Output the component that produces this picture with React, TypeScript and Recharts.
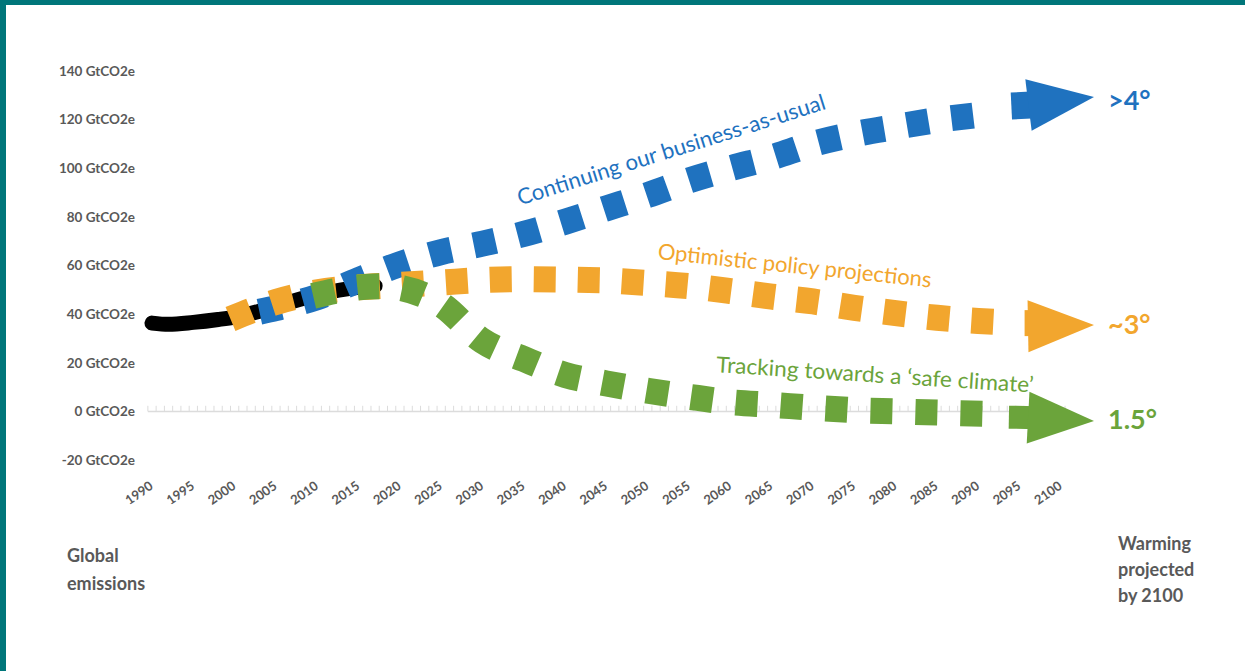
import React from 'react';
import { ComposedChart, Line, XAxis, YAxis, ReferenceLine, ReferenceDot } from 'recharts';

const FONT = 'Lato, "Open Sans", sans-serif';
const GRAY = '#595959';
const BLUE = '#1f72bf';
const ORANGE = '#f2a62e';
const GREEN = '#6ba43b';
const TEAL = '#00767a';
const AXIS_GRAY = '#dcdcdc';

// ---- categories / ticks ----
const xTickYears = [1990, 1995, 2000, 2005, 2010, 2015, 2020, 2025, 2030, 2035, 2040, 2045, 2050, 2055, 2060, 2065, 2070, 2075, 2080, 2085, 2090, 2095, 2100];
const yTickValues = [-20, 0, 20, 40, 60, 80, 100, 120, 140];
const yTickUnit = 'GtCO2e';
const firstYear = 1990;
const lastYear = 2100;

// ---- series (GtCO2e) ----
const historical = [
  { year: 1990, value: 36.3 },
  { year: 1992, value: 35.8 },
  { year: 1995, value: 36.6 },
  { year: 1998, value: 37.8 },
  { year: 2000, value: 38.8 },
  { year: 2003, value: 41.2 },
  { year: 2005, value: 43.2 },
  { year: 2010, value: 48 },
  { year: 2015, value: 51 },
  { year: 2017, value: 51.6 },
];

const businessAsUsual = [
  { year: 2003, value: 41 },
  { year: 2005, value: 42.5 },
  { year: 2010, value: 47 },
  { year: 2015, value: 54 },
  { year: 2020, value: 60.5 },
  { year: 2025, value: 65.5 },
  { year: 2030, value: 69 },
  { year: 2035, value: 73 },
  { year: 2040, value: 78 },
  { year: 2045, value: 83.5 },
  { year: 2050, value: 89 },
  { year: 2055, value: 95 },
  { year: 2060, value: 100 },
  { year: 2065, value: 104.5 },
  { year: 2070, value: 110 },
  { year: 2075, value: 114 },
  { year: 2080, value: 117 },
  { year: 2085, value: 119.8 },
  { year: 2091, value: 122.3 },
];

const policyProjections = [
  { year: 1999.5, value: 38 },
  { year: 2005, value: 45 },
  { year: 2010, value: 49 },
  { year: 2015, value: 51 },
  { year: 2020, value: 52 },
  { year: 2025, value: 53 },
  { year: 2030, value: 54 },
  { year: 2035, value: 54.4 },
  { year: 2040, value: 54.2 },
  { year: 2045, value: 53.8 },
  { year: 2050, value: 52.8 },
  { year: 2055, value: 51.5 },
  { year: 2060, value: 49.5 },
  { year: 2065, value: 47.2 },
  { year: 2070, value: 45.2 },
  { year: 2075, value: 42.6 },
  { year: 2080, value: 40.4 },
  { year: 2085, value: 38.5 },
  { year: 2090, value: 37.2 },
  { year: 2093.5, value: 36.6 },
];

const safeClimate = [
  { year: 2009.5, value: 47.5 },
  { year: 2015, value: 51 },
  { year: 2018, value: 51.5 },
  { year: 2020, value: 50.8 },
  { year: 2025, value: 44 },
  { year: 2030, value: 29 },
  { year: 2035, value: 21.5 },
  { year: 2040, value: 15 },
  { year: 2045, value: 11.5 },
  { year: 2050, value: 8.5 },
  { year: 2055, value: 6 },
  { year: 2060, value: 3.8 },
  { year: 2065, value: 2.7 },
  { year: 2070, value: 1.5 },
  { year: 2075, value: 0.5 },
  { year: 2080, value: 0 },
  { year: 2085, value: -0.5 },
  { year: 2091, value: -1 },
];

// ---- arrows (body start/end and tip) ----
const bauArrowBody = [{ year: 2094, value: 125.6 }, { year: 2097, value: 126.1 }];
const policyArrowBody = [{ year: 2095.6, value: 36.3 }, { year: 2097, value: 36.3 }];
const safeArrowBody = [{ year: 2093.7, value: -2.4 }, { year: 2097, value: -2.6 }];

const bauArrowTip = [{ year: 2104, value: 129.3, label: '>4°' }];
const policyArrowTip = [{ year: 2104, value: 35.5, label: '~3°' }];
const safeArrowTip = [{ year: 2104, value: -4, label: '1.5°' }];

// ---- annotations ----
const annotations = [
  { text: 'Continuing our business-as-usual', year: 2052.8, value: 107.9, color: BLUE, angle: -17.5, length: 322 },
  { text: 'Optimistic policy projections', year: 2067.8, value: 60.3, color: ORANGE, angle: 5.9, length: 275 },
  { text: 'Tracking towards a \u2018safe climate\u2019', year: 2077.5, value: 15.4, color: GREEN, angle: 3.7, length: 318 },
];

const axisBoundaries = Array.from({ length: lastYear - firstYear + 2 }, (_, i) => firstYear - 0.5 + i);

const makeArrowHead = (color: string, angle: number, labelDy: number) => (props: any) => {
  const { cx, cy, payload, index } = props;
  if (cx == null || cy == null) return <g key={`ah-${index}`} />;
  const len = 66;
  const half = 26;
  return (
    <g key={`ah-${index}`}>
      <polygon
        points={`${cx},${cy} ${cx - len},${cy - half} ${cx - len},${cy + half}`}
        fill={color}
        transform={`rotate(${angle}, ${cx}, ${cy})`}
      />
      <text
        x={cx + 14}
        y={cy + labelDy}
        dominantBaseline="central"
        fill={color}
        fontSize={27}
        fontWeight={700}
        fontFamily={FONT}
      >
        {payload.label}
      </text>
    </g>
  );
};

const XTick = (props: any) => {
  const { x, y, payload } = props;
  const ax = x + 2;
  const ay = y + 28;
  return (
    <text
      x={ax}
      y={ay}
      transform={`rotate(-35, ${ax}, ${ay})`}
      textAnchor="end"
      fill={GRAY}
      fontSize={13}
      fontWeight={700}
      fontFamily={FONT}
    >
      {payload.value}
    </text>
  );
};

export default function App() {
  return (
    <div style={{ position: 'absolute', left: 0, top: 0, width: 1245, height: 671, background: '#fff', overflow: 'hidden' }}>
      <div style={{ position: 'absolute', left: 0, top: 0, width: 1245, height: 5, background: TEAL }} />
      <div style={{ position: 'absolute', left: 0, top: 0, width: 6, height: 671, background: TEAL }} />
      <div style={{ position: 'absolute', left: 0, top: 0 }}>
        <ComposedChart width={1245} height={671} margin={{ top: 71, right: 151, bottom: 181, left: 52 }}>
          <XAxis
            type="number"
            dataKey="year"
            domain={[firstYear, 2104]}
            ticks={xTickYears}
            interval={0}
            axisLine={false}
            tickLine={false}
            tickSize={0}
            tickMargin={0}
            height={30}
            tick={<XTick />}
            allowDuplicatedCategory={false}
          />
          <YAxis
            type="number"
            domain={[-20, 140]}
            ticks={yTickValues}
            interval={0}
            width={100}
            axisLine={false}
            tickLine={false}
            tickSize={0}
            tickMargin={17}
            tickFormatter={(v: number) => `${v} ${yTickUnit}`}
            tick={{ fill: GRAY, fontSize: 13.5, fontWeight: 700, fontFamily: FONT }}
          />
          <ReferenceLine
            segment={[{ x: firstYear - 0.5, y: 0 }, { x: lastYear + 0.5, y: 0 }]}
            stroke={AXIS_GRAY}
            strokeWidth={1.5}
            ifOverflow="visible"
          />
          {axisBoundaries.map((b) => (
            <ReferenceLine
              key={`mt-${b}`}
              segment={[{ x: b, y: 0 }, { x: b, y: 2.3 }]}
              stroke={AXIS_GRAY}
              strokeWidth={1}
              ifOverflow="visible"
            />
          ))}
          <Line data={historical} dataKey="value" type="monotone" stroke="#000" strokeWidth={15} strokeLinecap="round" dot={false} isAnimationActive={false} />
          <Line data={businessAsUsual} dataKey="value" type="monotone" stroke={BLUE} strokeWidth={26} strokeDasharray="22 23" dot={false} isAnimationActive={false} />
          <Line data={policyProjections} dataKey="value" type="monotone" stroke={ORANGE} strokeWidth={26} strokeDasharray="22 22" dot={false} isAnimationActive={false} />
          <Line data={safeClimate} dataKey="value" type="monotone" stroke={GREEN} strokeWidth={26} strokeDasharray="22 23" dot={false} isAnimationActive={false} />
          <Line data={bauArrowBody} dataKey="value" type="linear" stroke={BLUE} strokeWidth={27} dot={false} isAnimationActive={false} />
          <Line data={policyArrowBody} dataKey="value" type="linear" stroke={ORANGE} strokeWidth={26} dot={false} isAnimationActive={false} />
          <Line data={safeArrowBody} dataKey="value" type="linear" stroke={GREEN} strokeWidth={23} dot={false} isAnimationActive={false} />
          <Line data={bauArrowTip} dataKey="value" stroke="none" dot={makeArrowHead(BLUE, -7, 2)} isAnimationActive={false} />
          <Line data={policyArrowTip} dataKey="value" stroke="none" dot={makeArrowHead(ORANGE, -1, -2)} isAnimationActive={false} />
          <Line data={safeArrowTip} dataKey="value" stroke="none" dot={makeArrowHead(GREEN, 3, -3)} isAnimationActive={false} />
          {annotations.map((a) => (
            <ReferenceDot
              key={a.text}
              x={a.year}
              y={a.value}
              r={1}
              ifOverflow="visible"
              shape={(p: any) => (
                <text
                  x={p.cx}
                  y={p.cy}
                  transform={`rotate(${a.angle}, ${p.cx}, ${p.cy})`}
                  textAnchor="middle"
                  dominantBaseline="central"
                  fill={a.color}
                  fontSize={22}
                  fontFamily={FONT}
                  textLength={a.length}
                  lengthAdjust="spacingAndGlyphs"
                >
                  {a.text}
                </text>
              )}
            />
          ))}
        </ComposedChart>
      </div>
      <div style={{ position: 'absolute', left: 67, top: 541, fontFamily: FONT, fontSize: 18, fontWeight: 700, lineHeight: '28px', color: GRAY }}>
        Global<br />emissions
      </div>
      <div style={{ position: 'absolute', left: 1118, top: 530, fontFamily: FONT, fontSize: 18, fontWeight: 700, lineHeight: '26px', color: GRAY }}>
        Warming<br />projected<br />by 2100
      </div>
    </div>
  );
}
